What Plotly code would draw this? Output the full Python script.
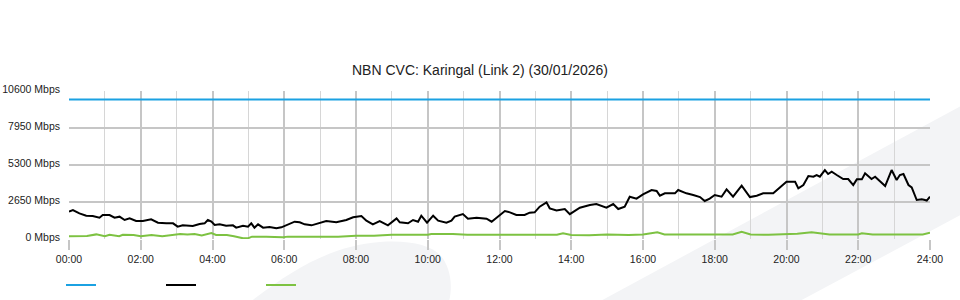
import plotly.graph_objects as go

# ---- data ----
title_text = "NBN CVC: Karingal (Link 2) (30/01/2026)"
x_tick_vals = [0, 2, 4, 6, 8, 10, 12, 14, 16, 18, 20, 22, 24]
x_tick_text = ["00:00", "02:00", "04:00", "06:00", "08:00", "10:00", "12:00",
               "14:00", "16:00", "18:00", "20:00", "22:00", "24:00"]
y_tick_vals = [0, 2650, 5300, 7950, 10600]
y_tick_text = ["0 Mbps", "2650 Mbps", "5300 Mbps", "7950 Mbps", "10600 Mbps"]

capacity_hours = [0, 24]
capacity_mbps = [10000, 10000]

down_hours = [0.00, 0.11, 0.29, 0.48, 0.66, 0.85, 0.94, 1.13, 1.27, 1.41, 1.55, 1.69, 1.87,
              2.06, 2.29, 2.48, 2.71, 2.90, 3.03, 3.17, 3.45, 3.64, 3.78, 3.87, 3.97, 4.06,
              4.20, 4.38, 4.57, 4.66, 4.85, 4.99, 5.08, 5.17, 5.27, 5.41, 5.59, 5.78, 5.92,
              6.06, 6.15, 6.29, 6.43, 6.57, 6.76, 6.89, 6.99, 7.17, 7.45, 7.73, 7.92, 8.15,
              8.29, 8.47, 8.66, 8.89, 9.13, 9.22, 9.45, 9.59, 9.73, 9.82, 9.98, 10.15, 10.29,
              10.52, 10.66, 10.75, 10.98, 11.12, 11.36, 11.64, 11.78, 11.91, 12.15, 12.29,
              12.47, 12.70, 12.84, 12.98, 13.12, 13.31, 13.40, 13.59, 13.82, 13.96, 14.24,
              14.52, 14.70, 14.98, 15.17, 15.31, 15.49, 15.63, 15.82, 16.00, 16.24, 16.38,
              16.47, 16.61, 16.89, 16.98, 17.21, 17.40, 17.59, 17.72, 17.86, 18.00, 18.19,
              18.33, 18.51, 18.75, 18.98, 19.17, 19.35, 19.63, 19.82, 20.00, 20.24, 20.33,
              20.47, 20.61, 20.75, 20.84, 20.93, 21.07, 21.16, 21.26, 21.40, 21.58, 21.72,
              21.86, 21.96, 22.10, 22.19, 22.37, 22.47, 22.65, 22.75, 22.93, 23.07, 23.16,
              23.26, 23.40, 23.49, 23.63, 23.77, 23.86, 23.91, 24.00]
down_mbps = [1955, 2076, 1838, 1670, 1647, 1527, 1718, 1718, 1527, 1599, 1360, 1479, 1289,
             1289, 1408, 1169, 1122, 1122, 883, 978, 931, 1074, 1122, 1360, 1241, 1002,
             1050, 954, 978, 811, 954, 883, 1122, 811, 1050, 811, 859, 764, 835,
             1002, 1074, 1241, 1193, 1050, 978, 1074, 1200, 1289, 1193, 1360, 1551, 1647,
             1312, 1050, 1289, 978, 1479, 1193, 1122, 1360, 1241, 1670, 1169, 1670, 1312,
             1169, 1312, 1599, 1790, 1456, 1527, 1456, 1241, 1527, 2005, 1910,
             1718, 1718, 1885, 1910, 2315, 2625, 2196, 2040, 2148, 1780, 2243,
             2434, 2506, 2243, 2506, 2148, 2315, 3030, 2888, 3197, 3508, 3437,
             3102, 3270, 3270, 3508, 3270, 3150, 3006, 2721, 2888, 3150, 3030,
             3556, 3030, 3818, 3006, 3102, 3270, 3270, 3699, 4104, 4104, 3627,
             3866, 4511, 4463, 4583, 4463, 4940, 4654, 4822, 4583, 4296, 4296,
             3866, 4272, 4272, 4702, 4296, 4463, 3985, 3794, 4940, 4224, 4583,
             4654, 3866, 3699, 2793, 2840, 2793, 2745, 3030]

up_hours = [0.0, 0.5, 0.76, 1.0, 1.13, 1.4, 1.5, 1.8, 2.0, 2.3, 2.6, 2.9, 3.1, 3.3, 3.5,
            3.7, 3.97, 4.1, 4.4, 4.6, 4.85, 5.0, 5.1, 5.5, 5.8, 5.96, 6.1, 6.5, 7.0, 7.2,
            7.5, 8.0, 8.5, 9.0, 10.0, 10.1, 10.7, 11.1, 12.0, 12.5, 12.7, 13.0, 13.6, 13.77,
            14.0, 14.5, 15.0, 15.6, 16.0, 16.4, 16.6, 17.5, 18.5, 18.75, 19.0, 19.5, 20.3,
            20.7, 21.2, 22.0, 22.1, 22.4, 23.0, 23.8, 24.0]
up_mbps = [200, 215, 330, 200, 300, 200, 300, 290, 200, 290, 200, 310, 360, 330, 360,
           250, 420, 290, 280, 200, 50, 60, 170, 170, 160, 120, 170, 170, 170, 140,
           170, 240, 240, 300, 300, 358, 358, 300, 310, 300, 330, 310, 310, 406,
           290, 262, 330, 280, 330, 478, 330, 330, 330, 525, 330, 300, 380,
           478, 330, 330, 406, 330, 330, 330, 454]

# ---- layout helpers (pixel -> paper) ----
W, H = 960, 300
ML, MR, MT, MB = 69, 30, 91, 61
PW, PH = W - ML - MR, H - MT - MB


def px(x, y):
    return (x - ML) / PW, (H - MB - y) / PH


def path(cmds):
    out = []
    for c in cmds:
        op, pts = c[0], c[1:]
        coords = []
        for (x, y) in pts:
            a, b = px(x, y)
            coords.append(f"{a:.4f},{b:.4f}")
        out.append(op + " " + " ".join(coords))
    return " ".join(out) + " Z"


band = path([("M", (584, 310)), ("L", (970, 101)), ("L", (970, 210)), ("L", (783, 310))])
swoosh = path([("M", (240, 310)),
               ("C", (290, 270), (330, 246), (380, 242)),
               ("C", (410, 240), (430, 245), (440, 255)),
               ("C", (452, 268), (454, 292), (446, 310))])

font_family = "Liberation Sans, Arial, sans-serif"

fig = go.Figure()
fig.add_trace(go.Scatter(x=capacity_hours, y=capacity_mbps, mode="lines", name="",
                         line=dict(color="#1ba1e2", width=2)))
fig.add_trace(go.Scatter(x=down_hours, y=down_mbps, mode="lines", name="",
                         line=dict(color="#000000", width=2)))
fig.add_trace(go.Scatter(x=up_hours, y=up_mbps, mode="lines", name="",
                         line=dict(color="#7dc242", width=2)))

fig.update_layout(
    width=W, height=H,
    margin=dict(l=ML, r=MR, t=MT, b=MB, pad=0, autoexpand=False),
    paper_bgcolor="#ffffff",
    plot_bgcolor="rgba(0,0,0,0)",
    font=dict(family=font_family, size=10.5, color="#222222"),
    title=dict(text=title_text, x=0.5, xref="container", xanchor="center",
               y=1 - 70 / H, yref="container", yanchor="middle",
               font=dict(family=font_family, size=14, color="#222222")),
    showlegend=True,
    legend=dict(orientation="h", x=(61 - ML) / PW, xanchor="left",
                y=(H - MB - 285) / PH, yanchor="middle",
                entrywidth=55, entrywidthmode="pixels",
                bgcolor="rgba(0,0,0,0)", font=dict(size=10.5)),
    shapes=[
        dict(type="path", xref="paper", yref="paper", path=band,
             fillcolor="#f3f4f6", line=dict(width=0), layer="below"),
        dict(type="path", xref="paper", yref="paper", path=swoosh,
             fillcolor="#f3f4f6", line=dict(width=0), layer="below"),
    ],
)

fig.update_xaxes(
    range=[0, 24], tickmode="array", tickvals=x_tick_vals, ticktext=x_tick_text,
    showgrid=True, gridcolor="#c6c6c6", gridwidth=2,
    ticks="outside", ticklen=10, tickwidth=2, tickcolor="#c6c6c6",
    automargin=False,
    minor=dict(dtick=1, tick0=0, showgrid=True, gridcolor="#d6d6d6", gridwidth=1),
    zeroline=False, showline=False, fixedrange=True,
)
fig.update_yaxes(
    range=[0, 10600], tickmode="array", tickvals=y_tick_vals, ticktext=y_tick_text,
    showgrid=True, gridcolor="#c6c6c6", gridwidth=2,
    ticks="", ticklabelstandoff=8, ticklabelshift=-2, automargin=False,
    zeroline=False, showline=False, fixedrange=True,
)

fig.write_html("out.html")
